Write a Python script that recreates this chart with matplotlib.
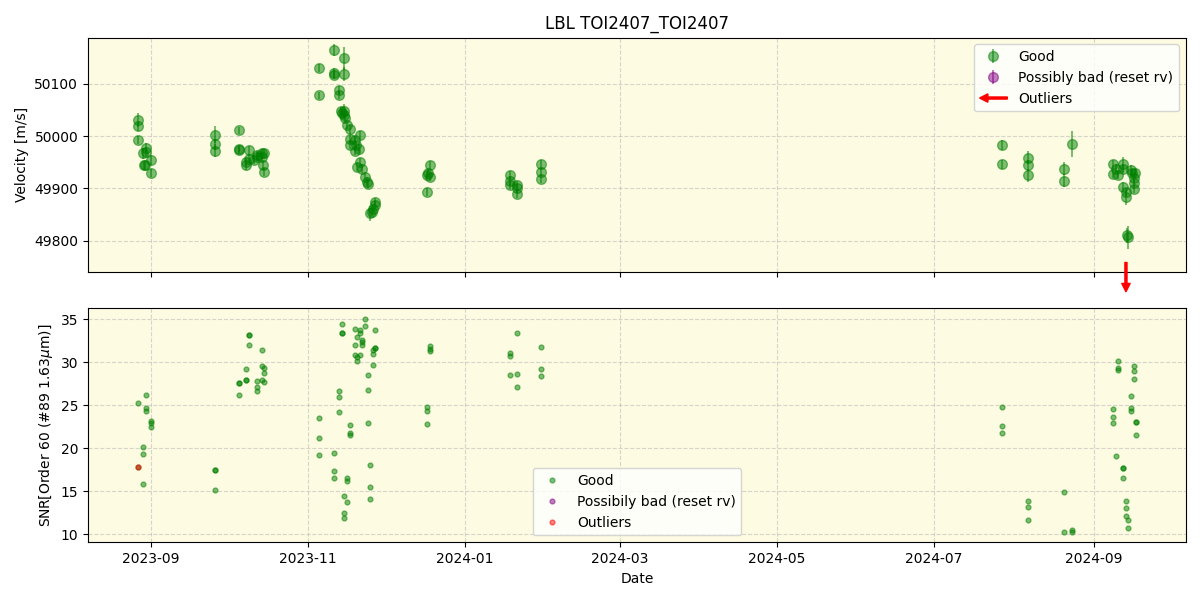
import numpy as np
import pandas as pd
import matplotlib
matplotlib.use("Agg")
import matplotlib.pyplot as plt
import matplotlib.patches as mpatches
from matplotlib.legend_handler import HandlerPatch

# radial velocities (good points)
rv_dates = [
    '2023-08-27 02:00', '2023-08-27 02:00', '2023-08-27 03:00', '2023-08-29 06:00', '2023-08-29 12:00',
    '2023-08-30 06:00', '2023-08-30 04:00', '2023-08-29 20:00', '2023-09-01 00:00', '2023-09-01 00:00',
    '2023-09-26 00:00', '2023-09-26 00:00', '2023-09-26 00:00',
    '2023-10-05 06:00', '2023-10-05 08:00', '2023-10-05 10:00', '2023-10-08 00:00', '2023-10-08 04:00',
    '2023-10-09 04:00', '2023-10-09 06:00', '2023-10-12 04:00', '2023-10-12 08:00', '2023-10-11 06:00',
    '2023-10-14 06:00', '2023-10-14 10:00', '2023-10-14 12:00', '2023-10-15 00:00', '2023-10-15 02:00',
    '2023-11-05 10:00', '2023-11-05 10:00', '2023-11-11 06:00', '2023-11-11 06:00', '2023-11-11 02:00',
    '2023-11-15 02:00', '2023-11-15 02:00', '2023-11-13 06:00', '2023-11-13 06:00', '2023-11-13 20:00',
    '2023-11-14 08:00', '2023-11-15 04:00', '2023-11-15 06:00', '2023-11-15 12:00', '2023-11-16 08:00',
    '2023-11-17 10:00', '2023-11-17 06:00', '2023-11-17 06:00', '2023-11-19 10:00', '2023-11-19 18:00',
    '2023-11-19 12:00', '2023-11-21 06:00', '2023-11-21 02:00', '2023-11-21 08:00', '2023-11-20 04:00',
    '2023-11-22 02:00', '2023-11-23 06:00', '2023-11-24 10:00', '2023-11-24 02:00', '2023-11-25 06:00',
    '2023-11-26 10:00', '2023-11-27 02:00', '2023-11-25 20:00', '2023-11-27 04:00',
    '2023-12-17 08:00', '2023-12-17 06:00', '2023-12-18 10:00', '2023-12-18 10:00', '2023-12-17 20:00',
    '2024-01-18 14:00', '2024-01-18 14:00', '2024-01-18 14:00', '2024-01-21 08:00', '2024-01-21 08:00',
    '2024-01-21 08:00', '2024-01-30 14:00', '2024-01-30 14:00', '2024-01-30 14:00',
    '2024-07-27 08:00', '2024-07-27 08:00', '2024-08-06 10:00', '2024-08-06 10:00', '2024-08-06 10:00',
    '2024-08-20 10:00', '2024-08-20 10:00', '2024-08-23 12:00',
    '2024-09-08 12:00', '2024-09-08 12:00', '2024-09-09 14:00', '2024-09-10 08:00', '2024-09-12 08:00',
    '2024-09-12 06:00', '2024-09-12 12:00', '2024-09-13 12:00', '2024-09-13 08:00', '2024-09-14 06:00',
    '2024-09-14 02:00', '2024-09-15 12:00', '2024-09-16 00:00', '2024-09-16 14:00', '2024-09-16 12:00',
    '2024-09-17 04:00', '2024-09-16 12:00',
]
rv_vals = [
    50031, 50019, 49992, 49967, 49944, 49978, 49970, 49944, 49954, 49930,
    50003, 49984, 49972,
    50011, 49976, 49973, 49951, 49944, 49973, 49957, 49963, 49960, 49955,
    49967, 49960, 49944, 49931, 49968,
    50131, 50078, 50165, 50121, 50118, 50149, 50119, 50088, 50079, 50048,
    50044, 50048, 50040, 50034, 50022, 50013, 49995, 49983, 49992, 49983,
    49972, 50002, 49976, 49951, 49941, 49938, 49922, 49909, 49913, 49852,
    49861, 49874, 49855, 49868,
    49893, 49926, 49944, 49922, 49929,
    49925, 49915, 49906, 49906, 49900, 49890, 49946, 49931, 49918,
    49983, 49946, 49959, 49944, 49925, 49938, 49915, 49985,
    49946, 49928, 49938, 49925, 49946, 49938, 49903, 49883, 49893, 49806,
    49810, 49935, 49930, 49919, 49899, 49930, 49910,
]
rv_errs = [
    14, 10, 8, 10, 9, 9, 9, 8, 9, 8,
    16, 10, 12,
    7, 7, 7, 8, 8, 8, 8, 8, 8, 8,
    8, 8, 8, 8, 8,
    8, 7, 12, 10, 8, 22, 14, 8, 8, 8,
    8, 14, 8, 8, 8, 8, 8, 8, 8, 8,
    8, 8, 8, 8, 8, 8, 8, 8, 8, 14,
    8, 8, 8, 8,
    8, 8, 8, 8, 8,
    8, 8, 8, 8, 8, 8, 8, 8, 8,
    9, 8, 12, 10, 12, 12, 12, 25,
    8, 8, 8, 8, 14, 8, 10, 14, 8, 22,
    14, 10, 8, 8, 8, 8, 8,
]
outlier_date = '2024-09-13 12:00'

# SNR
snr_dates = [
    '2023-08-27 02:00', '2023-08-30 06:00', '2023-08-30 06:00', '2023-08-30 06:00', '2023-09-01 00:00',
    '2023-09-01 00:00', '2023-09-01 00:00', '2023-08-29 00:00', '2023-08-29 00:00', '2023-08-27 02:00',
    '2023-08-29 00:00',
    '2023-09-26 00:00', '2023-09-26 00:00', '2023-09-26 00:00',
    '2023-10-09 04:00', '2023-10-09 04:00', '2023-10-09 04:00', '2023-10-14 08:00', '2023-10-08 00:00',
    '2023-10-14 08:00', '2023-10-15 00:00', '2023-10-15 00:00', '2023-10-05 06:00', '2023-10-05 06:00',
    '2023-10-08 04:00', '2023-10-08 04:00', '2023-10-14 08:00', '2023-10-15 00:00', '2023-10-12 04:00',
    '2023-10-12 04:00', '2023-10-12 04:00', '2023-10-05 06:00',
    '2023-11-05 10:00', '2023-11-05 10:00', '2023-11-05 10:00', '2023-11-14 08:00', '2023-11-14 08:00',
    '2023-11-14 08:00', '2023-11-13 06:00', '2023-11-13 06:00', '2023-11-13 06:00', '2023-11-11 06:00',
    '2023-11-11 06:00', '2023-11-11 06:00', '2023-11-17 10:00', '2023-11-17 10:00', '2023-11-17 10:00',
    '2023-11-16 08:00', '2023-11-16 08:00', '2023-11-15 02:00', '2023-11-16 08:00', '2023-11-15 02:00',
    '2023-11-15 04:00', '2023-11-23 06:00', '2023-11-19 10:00', '2023-11-21 06:00', '2023-11-23 06:00',
    '2023-11-27 02:00', '2023-11-21 06:00', '2023-11-20 04:00', '2023-11-22 02:00', '2023-11-22 04:00',
    '2023-11-19 10:00', '2023-11-22 04:00', '2023-11-27 02:00', '2023-11-27 02:00', '2023-11-26 10:00',
    '2023-11-26 10:00', '2023-11-19 10:00', '2023-11-21 06:00', '2023-11-20 04:00', '2023-11-20 04:00',
    '2023-11-26 10:00', '2023-11-24 10:00', '2023-11-24 10:00', '2023-11-24 10:00', '2023-11-25 06:00',
    '2023-11-25 06:00', '2023-11-25 06:00',
    '2023-12-18 10:00', '2023-12-18 10:00', '2023-12-18 10:00', '2023-12-17 08:00', '2023-12-17 08:00',
    '2023-12-17 08:00',
    '2024-01-21 08:00', '2024-01-18 14:00', '2024-01-18 14:00', '2024-01-18 14:00', '2024-01-21 08:00',
    '2024-01-21 08:00', '2024-01-30 14:00', '2024-01-30 14:00', '2024-01-30 14:00',
    '2024-07-27 08:00', '2024-07-27 08:00', '2024-07-27 08:00', '2024-08-06 10:00', '2024-08-06 10:00',
    '2024-08-06 10:00', '2024-08-20 10:00', '2024-08-20 10:00', '2024-08-23 12:00', '2024-08-23 12:00',
    '2024-09-10 08:00', '2024-09-10 08:00', '2024-09-10 08:00', '2024-09-16 14:00', '2024-09-16 14:00',
    '2024-09-16 14:00', '2024-09-15 12:00', '2024-09-15 12:00', '2024-09-15 12:00', '2024-09-08 12:00',
    '2024-09-08 12:00', '2024-09-08 12:00', '2024-09-17 10:00', '2024-09-17 10:00', '2024-09-17 10:00',
    '2024-09-09 14:00', '2024-09-12 08:00', '2024-09-12 08:00', '2024-09-12 08:00', '2024-09-13 12:00',
    '2024-09-13 12:00', '2024-09-13 12:00', '2024-09-14 06:00', '2024-09-14 06:00',
]
snr_vals = [
    25.3, 26.2, 24.7, 24.3, 23.2, 22.9, 22.5, 20.2, 19.3, 17.8,
    15.9,
    17.5, 17.5, 15.2,
    33.2, 33.2, 32.0, 31.5, 29.2, 29.6, 29.4, 28.8, 27.6, 27.6,
    28.0, 28.0, 28.0, 27.7, 27.8, 27.1, 26.7, 26.2,
    23.5, 21.2, 19.2, 34.5, 33.4, 33.4, 26.7, 26.0, 24.2, 19.5,
    17.3, 16.6, 22.7, 21.8, 21.6, 16.5, 16.2, 14.4, 13.8, 12.5,
    11.9, 35.1, 33.9, 33.8, 34.2, 33.8, 33.4, 32.9, 32.6, 32.4,
    32.0, 32.0, 31.7, 31.7, 31.5, 31.0, 30.9, 30.9, 30.6, 30.2,
    29.7, 28.5, 26.8, 23.0, 18.0, 15.5, 14.05,
    31.96, 31.6, 31.3, 24.8, 24.3, 22.8,
    33.45, 31.1, 30.7, 28.5, 28.6, 27.1, 31.8, 29.2, 28.4,
    24.8, 22.6, 21.8, 13.9, 13.2, 11.6, 14.9, 10.3, 10.5, 10.3,
    30.2, 29.3, 29.1, 29.6, 29.0, 28.1, 26.1, 24.7, 24.3, 24.6,
    23.6, 22.9, 23.1, 23.1, 21.6, 19.1, 17.7, 17.7, 16.6, 13.9,
    13.0, 12.1, 11.6, 10.7,
]
snr_out_dates = ['2023-08-27 02:00']
snr_out_vals = [17.8]

rv_t = pd.to_datetime(rv_dates)
snr_t = pd.to_datetime(snr_dates)
bg = '#fdfbe2'


def arrow_patch(legend, orig_handle, xdescent, ydescent, width, height, fontsize):
    return mpatches.FancyArrow(width - xdescent, 0.5 * height - ydescent, -width, 0,
                               width=1.5, head_width=6, head_length=6,
                               length_includes_head=True)


fig, (ax1, ax2) = plt.subplots(2, 1, figsize=(12, 6), sharex=True)
fig.subplots_adjust(left=0.0733, right=0.9883, top=0.9375, bottom=0.0962, hspace=0.154)

ax1.errorbar(rv_t, rv_vals, yerr=rv_errs, fmt='o', color='g', ms=7, elinewidth=1.5,
             alpha=0.5, label='Good')
ax1.errorbar([], [], yerr=[], fmt='o', color='purple', ms=7, elinewidth=1.5, alpha=0.5,
             label='Possibly bad (reset rv)')
ax1.annotate('', xy=(pd.Timestamp(outlier_date), -0.085), xytext=(pd.Timestamp(outlier_date), 0.04),
             xycoords=('data', 'axes fraction'), annotation_clip=False,
             arrowprops=dict(facecolor='red', edgecolor='red', width=1.5, headwidth=6,
                             headlength=6, shrink=0))
handles, labels = ax1.get_legend_handles_labels()
out_handle = mpatches.Patch(color='red', label='Outliers')
ax1.legend(handles + [out_handle], labels + ['Outliers'], loc='upper right',
           handler_map={out_handle: HandlerPatch(patch_func=arrow_patch)})
ax1.set_ylim(49740, 50189)
ax1.set_ylabel('Velocity [m/s]')
ax1.set_title('LBL TOI2407_TOI2407')
ax1.set_facecolor(bg)
ax1.grid(True, linestyle='--', alpha=0.5)

ax2.plot(snr_t, snr_vals, 'o', color='g', ms=3.5, alpha=0.5, label='Good')
ax2.plot([], [], 'o', color='purple', ms=3.5, alpha=0.5, label='Possibily bad (reset rv)')
ax2.plot(pd.to_datetime(snr_out_dates), snr_out_vals, 'o', color='red', ms=3.5, alpha=0.5,
         label='Outliers')
ax2.legend(loc='lower center')
ax2.set_ylabel(r'SNR[Order 60 (#89 1.63$\mu$m)]')
ax2.set_xlabel('Date')
ax2.set_facecolor(bg)
ax2.grid(True, linestyle='--', alpha=0.5)

fig.savefig('out.png', dpi=100)
